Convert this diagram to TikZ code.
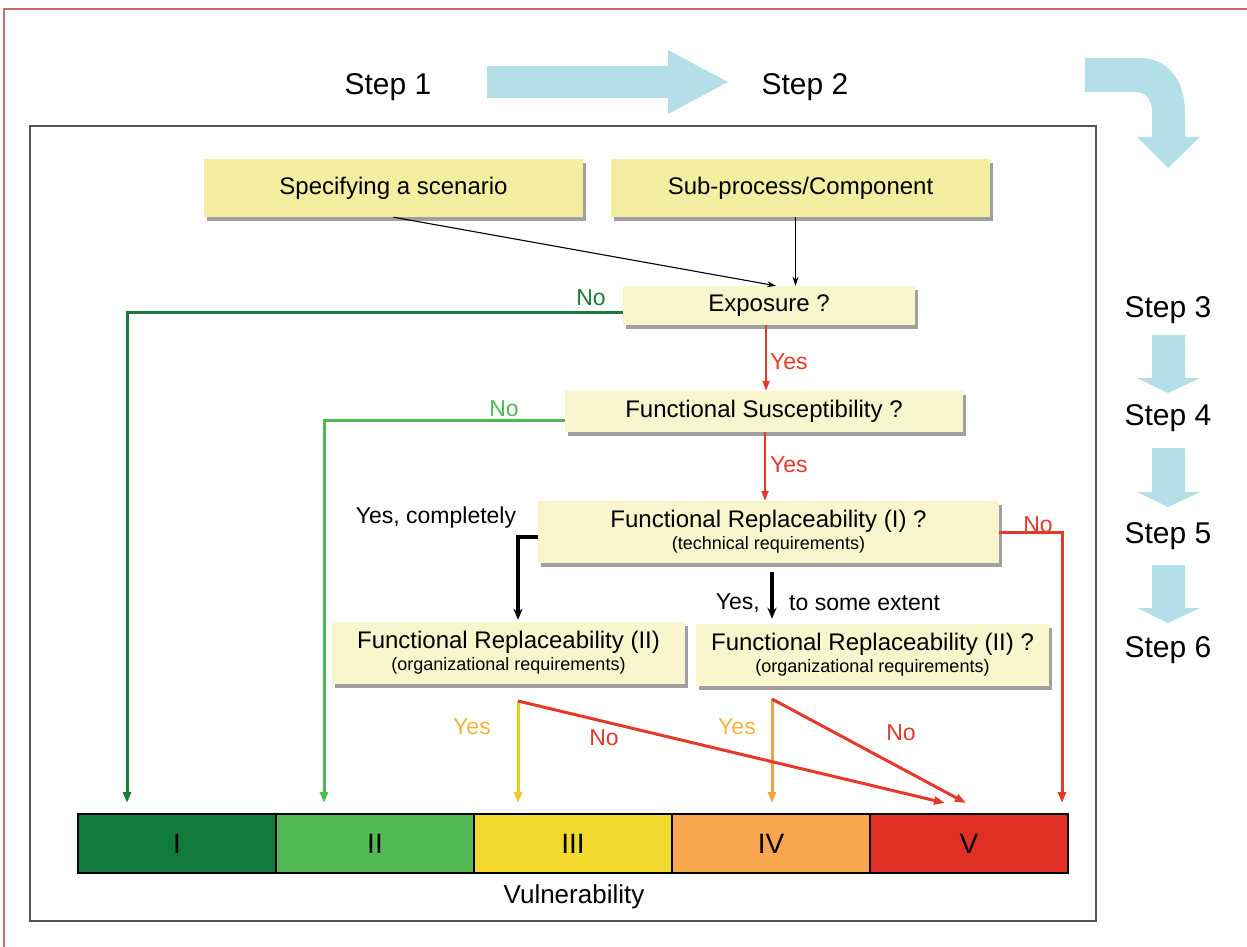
\documentclass[tikz,border=0pt]{standalone}
\usepackage{fontspec}
\setmainfont{Liberation Sans}
\usetikzlibrary{arrows.meta,shadows}
\definecolor{borderred}{HTML}{C86A6A}
\definecolor{framegray}{HTML}{555555}
\definecolor{topyellow}{HTML}{F4EFA0}
\definecolor{decyellow}{HTML}{F9F5CD}
\definecolor{shadowgray}{HTML}{A0A0A0}
\definecolor{skyarrow}{HTML}{B4DFE6}
\definecolor{dgreen}{HTML}{1B7A3B}
\definecolor{lgreen}{HTML}{4DBA52}
\definecolor{ayellow}{HTML}{F2C824}
\definecolor{yeslbl}{HTML}{F4B43A}
\definecolor{aorange}{HTML}{F6A040}
\definecolor{ared}{HTML}{E5392A}
\definecolor{cI}{HTML}{127A3C}
\definecolor{cII}{HTML}{52B954}
\definecolor{cIII}{HTML}{F1D92E}
\definecolor{cIV}{HTML}{F8A64D}
\definecolor{cV}{HTML}{E02F25}
\newcommand{\mysubsize}{\fontsize{18}{22}\selectfont}
\tikzset{
  boxshadow/.style={drop shadow={shadow xshift=3pt, shadow yshift=-4pt, fill=shadowgray, opacity=1}},
  topbox/.style={fill=topyellow, minimum width=379pt, minimum height=58pt, inner sep=0pt,
    font=\fontsize{24}{26}\selectfont, boxshadow},
  decbox/.style={fill=decyellow, inner sep=0pt, align=center,
    font=\fontsize{24}{22}\selectfont, boxshadow},
  steplabel/.style={font=\fontsize{30}{32}\selectfont, anchor=base, inner sep=0pt},
  lbl/.style={font=\fontsize{23}{25}\selectfont, inner sep=0pt},
  vseg/.style={draw=black, line width=1.3pt, minimum width=198pt, minimum height=59pt,
    inner sep=0pt, font=\fontsize{28}{30}\selectfont},
  thinarrow/.style={draw=black, line width=1.1pt, -{Stealth[length=9pt,width=6pt]}},
  blackthick/.style={draw=black, line width=3.2pt, -{Stealth[length=11pt,width=9pt]}},
  colarrow/.style={line width=3pt, -{Triangle[length=11pt,width=8pt]}},
  yesarrow/.style={draw=ared, line width=2pt, -{Triangle[length=10pt,width=7pt]}},
}
\begin{document}
\begin{tikzpicture}[x=1pt,y=-1pt]
\useasboundingbox (0,0) rectangle (1247,947);
% outer border
\draw[borderred, line width=1.2pt] (4,947) -- (4,9) -- (1247,9);
% inner frame
\draw[framegray, line width=1.6pt] (30,126) rectangle (1096,921);

% step labels
\node[steplabel] (s1) at (388,95) {Step 1};
\node[steplabel] (s2) at (805,95) {Step 2};
\node[steplabel] (s3) at (1168,317) {Step 3};
\node[steplabel] (s4) at (1168,425) {Step 4};
\node[steplabel] (s5) at (1168,543) {Step 5};
\node[steplabel] (s6) at (1168,657) {Step 6};

% light blue arrows
\fill[skyarrow] (487,66) -- (668,66) -- (668,50) -- (728,82) -- (668,114) -- (668,98) -- (487,98) -- cycle;
\fill[skyarrow] (1085,58) -- (1140,58) .. controls (1167,58) and (1185,80) .. (1185,112)
  -- (1185,137) -- (1200,137) -- (1168,168) -- (1137,137) -- (1152,137) -- (1152,112)
  .. controls (1152,100) and (1146,92) .. (1136,92) -- (1085,92) -- cycle;
\foreach \ya/\yb/\yc in {335/378/393, 448/492/507, 565/608/623}{
  \fill[skyarrow] (1152,\ya) -- (1185,\ya) -- (1185,\yb) -- (1200,\yb) -- (1168,\yc)
    -- (1137,\yb) -- (1152,\yb) -- cycle;
}

% boxes
\node[topbox] (scen) at (393.5,188) {Specifying a scenario};
\node[topbox] (comp) at (800.5,188) {Sub-process/Component};
\node[decbox, minimum width=292pt, minimum height=39pt] (expo) at (769,305.5) {Exposure ?};
\node[decbox, minimum width=398pt, minimum height=41pt] (fs) at (764,411.5) {Functional Susceptibility ?};
\node[decbox, minimum width=461pt, minimum height=62pt] (fr1) at (768.5,532)
  {Functional Replaceability (I) ?\\{\mysubsize (technical requirements)}};
\node[decbox, minimum width=353pt, minimum height=62pt] (fr2a) at (508.5,653)
  {Functional Replaceability (II)\\{\mysubsize (organizational requirements)}};
\node[decbox, minimum width=353pt, minimum height=62pt] (fr2b) at (872.5,655)
  {Functional Replaceability (II) ?\\{\mysubsize (organizational requirements)}};

% vulnerability bar
\node[vseg, fill=cI]   (v1) at (177,843.5) {I};
\node[vseg, fill=cII]  (v2) at (375,843.5) {II};
\node[vseg, fill=cIII] (v3) at (573,843.5) {III};
\node[vseg, fill=cIV]  (v4) at (771,843.5) {IV};
\node[vseg, fill=cV]   (v5) at (969,843.5) {V};
\node[font=\fontsize{26}{28}\selectfont, inner sep=0pt] (vul) at (574,897) {Vulnerability};

% arrow end points above the bar
\coordinate (tA) at (127,803);
\coordinate (tB) at (324,803);
\coordinate (tC) at (518,803);
\coordinate (tD) at (772,803);
\coordinate (tE1) at (945,803);
\coordinate (tE2) at (966,803);
\coordinate (tF) at (1062,803);
\coordinate (oA) at (518,701);
\coordinate (oB) at (772,699);

% connectors
\draw[thinarrow] (scen.south) -- ([xshift=7pt]expo.north);
\draw[thinarrow] ([xshift=-5pt]comp.south) -- ([xshift=-5pt]comp.south |- expo.north);
\draw[colarrow, dgreen] ([yshift=-7pt]expo.west) -| (tA);
\draw[colarrow, lgreen] ([yshift=-9pt]fs.west) -| (tB);
\draw[yesarrow] ([xshift=-3pt]expo.south) -- ([xshift=-3pt]expo.south |- fs.north);
\draw[yesarrow] ([xshift=1pt]fs.south) -- ([xshift=1pt]fs.south |- fr1.north);
\draw[colarrow, ared] (fr1.east) -| (tF);
\draw[blackthick] ([yshift=-5pt]fr1.west) -| ([xshift=9.5pt,yshift=2pt]fr2a.north);
\draw[blackthick] ([xshift=3.5pt,yshift=-9pt]fr1.south) -- ([xshift=3.5pt,yshift=5pt]fr1.south |- fr2b.north);
\draw[colarrow, ayellow] (oA) -- (tC);
\draw[colarrow, aorange] (oB) -- (tD);
\draw[colarrow, ared] (oA) -- (tE1);
\draw[colarrow, ared] (oB) -- (tE2);

% labels
\node[lbl, text=dgreen] (nolbl1) at (591,298) {No};
\node[lbl, text=lgreen] (nolbl2) at (504,409) {No};
\node[lbl, text=ared, anchor=west] (yes1) at (770,362) {Yes};
\node[lbl, text=ared, anchor=west] (yes2) at (770,465) {Yes};
\node[lbl] (yc) at (436,518) {Yes, completely};
\node[lbl, text=ared] (nolbl3) at (1038,525) {No};
\node[lbl, anchor=east] (yse1) at (760,603) {Yes,};
\node[lbl, anchor=west] (yse2) at (789,603) {to some extent};
\node[lbl, text=yeslbl] (yes3) at (472,727) {Yes};
\node[lbl, text=ared] (nolbl4) at (604,738) {No};
\node[lbl, text=yeslbl] (yes4) at (737,727) {Yes};
\node[lbl, text=ared] (nolbl5) at (901,733) {No};
\end{tikzpicture}
\end{document}
